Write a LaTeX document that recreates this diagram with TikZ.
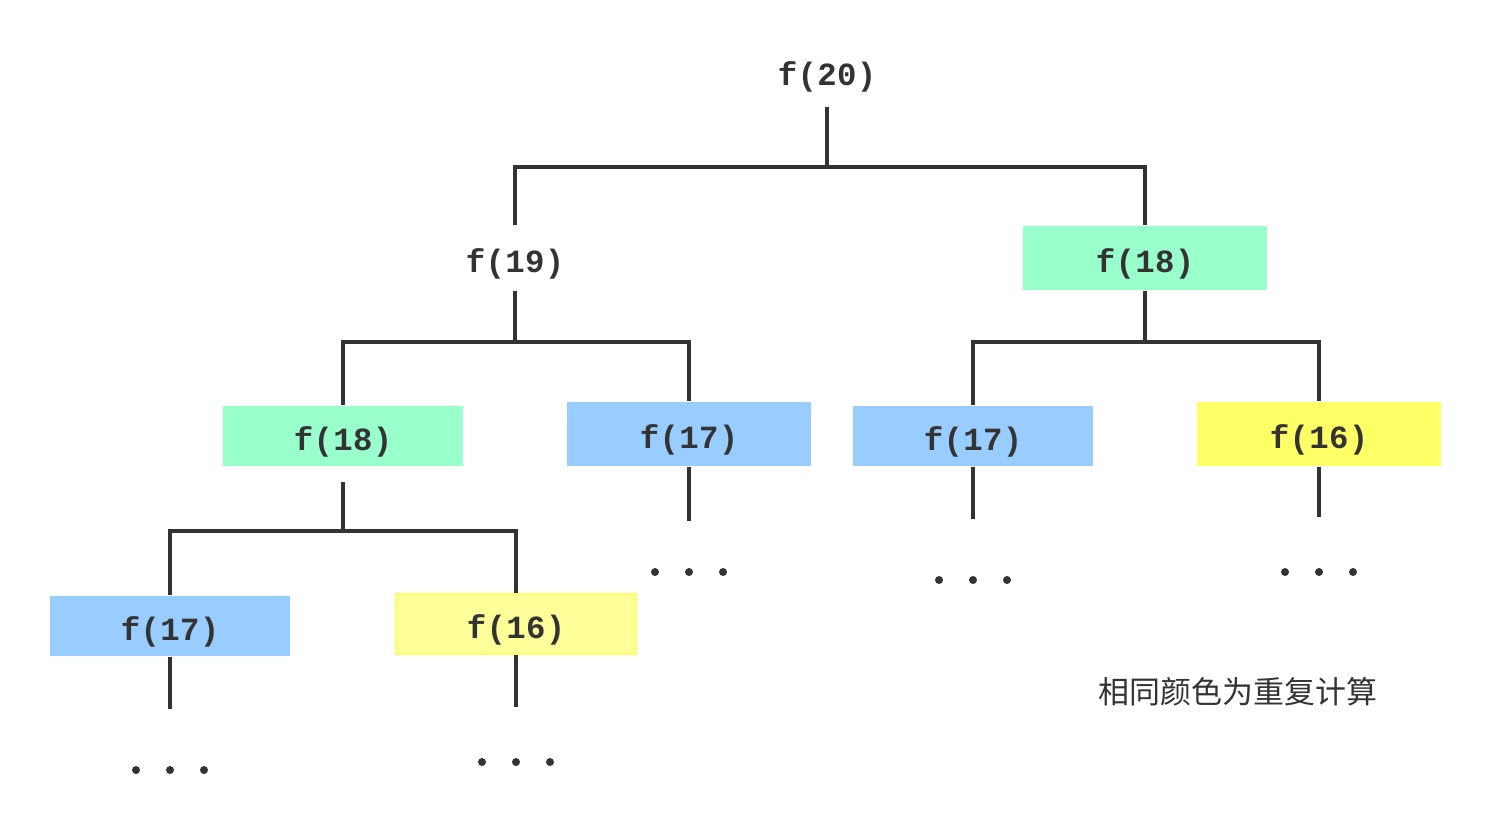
\documentclass[tikz,border=0pt]{standalone}
\usepackage{fontspec}
\newfontfamily\callfont[LetterSpace=1]{Liberation Mono}
\newfontfamily\cjk{Noto Sans CJK SC}
\usetikzlibrary{positioning}
\definecolor{ink}{HTML}{333333}
\definecolor{dupgreen}{HTML}{99FFCC}
\definecolor{dupblue}{HTML}{99CCFF}
\definecolor{dupyellow}{HTML}{FFFF66}
\definecolor{paleyellow}{HTML}{FFFF99}

\begin{document}
\begin{tikzpicture}[x=0.01cm,y=-0.01cm,
  call/.style={minimum width=2.4cm,minimum height=0.6cm,inner sep=0pt,
    text height=8.4pt,text depth=0pt,
    text=ink,font=\fontsize{9.2}{10}\selectfont\callfont\bfseries},
  wire/.style={draw=ink,line width=1pt,line join=miter},
  dot/.style={fill=ink}]
\useasboundingbox (0,0) rectangle (1489,820);

% the calls
\node[call,minimum height=0.7cm] (f20) at (827,71) {f(20)};
\node[call,minimum height=0.64cm] (f19) at (515,258) {f(19)};
\node[call,fill=dupgreen,minimum width=2.44cm,minimum height=0.64cm] (f18r) at (1145,258) {f(18)};
\node[call,fill=dupgreen] (f18l) at (343,436) {f(18)};
\node[call,fill=dupblue,minimum width=2.44cm,minimum height=0.64cm] (f17a) at (689,434) {f(17)};
\node[call,fill=dupblue] (f17b) at (973,436) {f(17)};
\node[call,fill=dupyellow,minimum width=2.44cm,minimum height=0.64cm] (f16a) at (1319,434) {f(16)};
\node[call,fill=dupblue] (f17c) at (170,626) {f(17)};
\node[call,fill=paleyellow,draw=dupyellow,line width=0.6pt] (f16b) at (516,624) {f(16)};

% bars and free ends
\coordinate (b20) at (827,167);
\coordinate (b19) at (515,342);
\coordinate (b18r) at (1145,342);
\coordinate (b18l) at (343,531);
\coordinate (e17a) at (689,521);
\coordinate (e17b) at (973,519);
\coordinate (e16a) at (1319,517);
\coordinate (e17c) at (170,709);
\coordinate (e16b) at (516,707);

\draw[wire] (f20) -- (b20) -| (f19);
\draw[wire] (b20) -| (f18r);
\draw[wire] (f19) -- (b19) -| (f18l);
\draw[wire] (b19) -| (f17a);
\draw[wire] (f18r) -- (b18r) -| (f17b);
\draw[wire] (b18r) -| (f16a);
\draw[wire] ([yshift=-4.3pt]f18l.south) -- (b18l) -| (f17c);
\draw[wire] (b18l) -| (f16b);
\draw[wire] (f17a) -- (e17a);
\draw[wire] (f17b) -- (e17b);
\draw[wire] (f16a) -- (e16a);
\draw[wire] (f17c) -- (e17c);
\draw[wire] (f16b) -- (e16b);

% what follows
\foreach \x/\y in {689/572,973/580,1319/572,170/770,516/762}
  \foreach \dx in {-34,0,34}
    \fill[dot] (\x+\dx,\y) circle[radius=0.04cm];

\node[text=ink,font=\cjk\fontsize{8.8}{10}\selectfont] (note) at (1238,692) {相同颜色为重复计算};
\end{tikzpicture}
\end{document}
